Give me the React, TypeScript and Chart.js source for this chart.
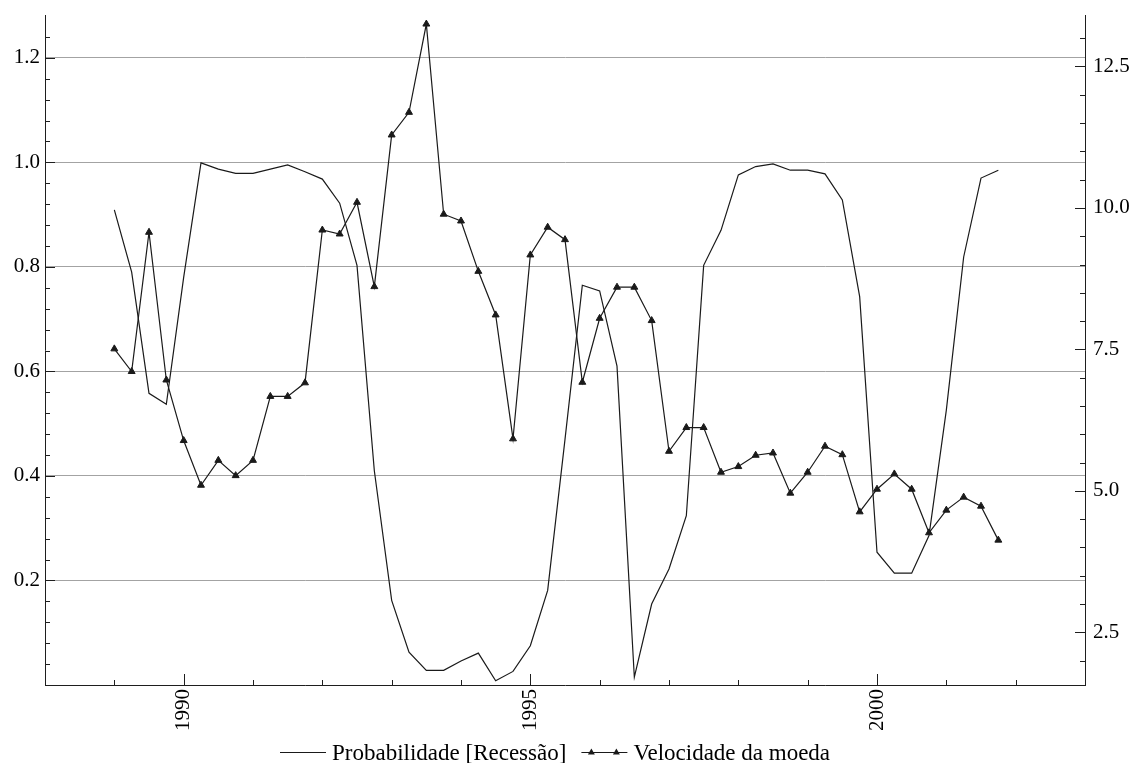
import React, { useEffect, useRef } from 'react';
import { Chart, registerables } from 'chart.js';

Chart.register(...registerables);

// Quarterly periods (decimal years)
const periods = [
  1989, 1989.25, 1989.5, 1989.75,
  1990, 1990.25, 1990.5, 1990.75,
  1991, 1991.25, 1991.5, 1991.75,
  1992, 1992.25, 1992.5, 1992.75,
  1993, 1993.25, 1993.5, 1993.75,
  1994, 1994.25, 1994.5, 1994.75,
  1995, 1995.25, 1995.5, 1995.75,
  1996, 1996.25, 1996.5, 1996.75,
  1997, 1997.25, 1997.5, 1997.75,
  1998, 1998.25, 1998.5, 1998.75,
  1999, 1999.25, 1999.5, 1999.75,
  2000, 2000.25, 2000.5, 2000.75,
  2001, 2001.25, 2001.5, 2001.75,
];

const probabilidade = [
  0.909, 0.79, 0.558, 0.537, 0.78, 0.999, 0.987, 0.979, 0.979, 0.987,
  0.995, 0.982, 0.968, 0.922, 0.803, 0.41, 0.162, 0.063, 0.028, 0.028,
  0.046, 0.061, 0.008, 0.026, 0.075, 0.181, 0.47, 0.765, 0.754, 0.61,
  0.015, 0.155, 0.222, 0.324, 0.803, 0.87, 0.976, 0.992, 0.997, 0.985,
  0.985, 0.978, 0.928, 0.743, 0.254, 0.214, 0.214, 0.286, 0.526, 0.819,
  0.97, 0.985,
];

const velocidade = [
  7.51, 7.11, 9.57, 6.96, 5.89, 5.10, 5.54, 5.27, 5.54, 6.67,
  6.67, 6.91, 9.61, 9.54, 10.10, 8.61, 11.29, 11.69, 13.25, 9.89,
  9.77, 8.88, 8.11, 5.92, 9.17, 9.66, 9.44, 6.92, 8.05, 8.60,
  8.60, 8.01, 5.70, 6.12, 6.12, 5.33, 5.43, 5.63, 5.67, 4.96,
  5.33, 5.79, 5.64, 4.63, 5.03, 5.30, 5.03, 4.26, 4.66, 4.89,
  4.73, 4.13,
];

const seriesLabels = ['Probabilidade [Recessão]', 'Velocidade da moeda'];
const leftTicks = [0.2, 0.4, 0.6, 0.8, 1.0, 1.2];
const rightTicks = [2.5, 5.0, 7.5, 10.0, 12.5];
const yearTicks = [1990, 1995, 2000];

const FONT = '"Liberation Serif", "Times New Roman", serif';
const AXIS_COLOR = '#1e1e1e';
const LINE_COLOR = '#1a1a1a';

const tickMarksPlugin = {
  id: 'tickMarks',
  afterDraw(chart: any) {
    const ctx = chart.ctx;
    const { left, right, bottom } = chart.chartArea;
    const sy = chart.scales.y;
    const sy1 = chart.scales.y1;
    const sx = chart.scales.x;
    ctx.save();
    ctx.strokeStyle = AXIS_COLOR;
    ctx.lineWidth = 1;
    const seg = (x1: number, y1: number, x2: number, y2: number) => {
      ctx.beginPath();
      ctx.moveTo(x1, y1);
      ctx.lineTo(x2, y2);
      ctx.stroke();
    };
    // left axis: minor every 0.04, major every 0.2
    for (let i = 1; i <= 31; i++) {
      const y = Math.round(sy.getPixelForValue(i * 0.04)) + 0.5;
      const major = i % 5 === 0;
      seg(left, y, left + (major ? 10 : 5), y);
    }
    // right axis: minor every 0.5, major every 2.5
    for (let i = 4; i <= 26; i++) {
      const y = Math.round(sy1.getPixelForValue(i * 0.5)) + 0.5;
      const major = i % 5 === 0;
      seg(right, y, right - (major ? 10 : 5), y);
    }
    // x axis: minor every year, major every 5 years
    for (let yr = 1989; yr <= 2002; yr++) {
      const x = Math.round(sx.getPixelForValue(yr)) + 0.5;
      const major = yr % 5 === 0;
      seg(x, bottom, x, bottom - (major ? 11 : 5));
    }
    ctx.restore();
  },
};

const legendPlugin = {
  id: 'customLegend',
  afterDraw(chart: any) {
    const ctx = chart.ctx;
    const ds = chart.data.datasets;
    const { left, right } = chart.chartArea;
    ctx.save();
    ctx.font = `23px ${FONT}`;
    ctx.fillStyle = '#000';
    ctx.strokeStyle = LINE_COLOR;
    ctx.lineWidth = 1;
    ctx.textBaseline = 'alphabetic';
    const lineY = 752.5;
    const textY = 760;
    const lineLen = 46;
    const gap = 6;
    const itemGap = 15;
    const w0 = ctx.measureText(ds[0].label).width;
    const w1 = ctx.measureText(ds[1].label).width;
    const total = lineLen + gap + w0 + itemGap + lineLen + gap + w1;
    let x = Math.round((left + right) / 2 - 10 - total / 2);
    // item 1
    ctx.beginPath();
    ctx.moveTo(x, lineY);
    ctx.lineTo(x + lineLen, lineY);
    ctx.stroke();
    ctx.fillText(ds[0].label, x + lineLen + gap, textY);
    x += lineLen + gap + w0 + itemGap;
    // item 2
    ctx.beginPath();
    ctx.moveTo(x, lineY);
    ctx.lineTo(x + lineLen, lineY);
    ctx.stroke();
    const tri = (cx: number, cy: number) => {
      const r = 4;
      ctx.beginPath();
      ctx.moveTo(cx, cy - r);
      ctx.lineTo(cx + r * 0.866, cy + r * 0.5);
      ctx.lineTo(cx - r * 0.866, cy + r * 0.5);
      ctx.closePath();
      ctx.fillStyle = LINE_COLOR;
      ctx.fill();
    };
    tri(x + 10, lineY);
    tri(x + 35, lineY);
    ctx.fillStyle = '#000';
    ctx.fillText(ds[1].label, x + lineLen + gap, textY);
    ctx.restore();
  },
};

const noPad = (s: any) => {
  s.paddingTop = 0;
  s.paddingBottom = 0;
  s.paddingLeft = 0;
  s.paddingRight = 0;
};

export default function App() {
  const canvasRef = useRef<HTMLCanvasElement | null>(null);

  useEffect(() => {
    const canvas = canvasRef.current;
    if (!canvas) return;
    const chart = new Chart(canvas, {
      type: 'line',
      data: {
        datasets: [
          {
            label: seriesLabels[0],
            data: periods.map((p, i) => ({ x: p, y: probabilidade[i] })),
            yAxisID: 'y',
            borderColor: LINE_COLOR,
            backgroundColor: LINE_COLOR,
            borderWidth: 1.2,
            pointRadius: 0,
            tension: 0,
            fill: false,
          },
          {
            label: seriesLabels[1],
            data: periods.map((p, i) => ({ x: p, y: velocidade[i] })),
            yAxisID: 'y1',
            borderColor: LINE_COLOR,
            backgroundColor: LINE_COLOR,
            borderWidth: 1.2,
            pointStyle: 'triangle',
            pointRadius: 4,
            pointBorderWidth: 1,
            tension: 0,
            fill: false,
          },
        ],
      },
      options: {
        responsive: false,
        animation: false,
        events: [],
        layout: { padding: { top: 15, left: 0, right: 0, bottom: 0 } },
        plugins: {
          legend: { display: false },
          tooltip: { enabled: false },
          title: { display: false },
        },
        scales: {
          x: {
            type: 'linear',
            position: 'bottom',
            min: 1988,
            max: 2003,
            afterBuildTicks: (s: any) => {
              s.ticks = yearTicks.map((v) => ({ value: v }));
            },
            afterFit: (s: any) => {
              s.height = 78;
              noPad(s);
            },
            grid: { display: true, drawOnChartArea: false, drawTicks: false },
            border: { display: true, color: AXIS_COLOR, width: 1 },
            ticks: {
              autoSkip: false,
              minRotation: 90,
              maxRotation: 90,
              padding: 4,
              color: '#000',
              font: { family: FONT, size: 21 },
              callback: (v: any) => String(v),
            },
          },
          y: {
            type: 'linear',
            position: 'left',
            min: 0,
            max: 1.282,
            afterBuildTicks: (s: any) => {
              s.ticks = leftTicks.map((v) => ({ value: v }));
            },
            afterFit: (s: any) => {
              s.width = 45;
              noPad(s);
            },
            grid: { color: '#a3a3a3', lineWidth: 1, drawTicks: false },
            border: { display: true, color: AXIS_COLOR, width: 1 },
            ticks: {
              padding: 5,
              color: '#000',
              font: { family: FONT, size: 21 },
              callback: (v: any) => Number(v).toFixed(1),
            },
          },
          y1: {
            type: 'linear',
            position: 'right',
            min: 1.57,
            max: 13.41,
            afterBuildTicks: (s: any) => {
              s.ticks = rightTicks.map((v) => ({ value: v }));
            },
            afterFit: (s: any) => {
              s.width = 52;
              noPad(s);
            },
            grid: { drawOnChartArea: false, drawTicks: false },
            border: { display: true, color: AXIS_COLOR, width: 1 },
            ticks: {
              padding: 8,
              color: '#000',
              font: { family: FONT, size: 21 },
              callback: (v: any) => Number(v).toFixed(1),
            },
          },
        },
      },
      plugins: [tickMarksPlugin, legendPlugin],
    } as any);
    return () => chart.destroy();
  }, []);

  return (
    <div style={{ position: 'absolute', left: 0, top: 0, width: 1137, height: 763, background: '#fff' }}>
      <canvas ref={canvasRef} width={1137} height={763} style={{ display: 'block', width: 1137, height: 763 }} />
    </div>
  );
}
